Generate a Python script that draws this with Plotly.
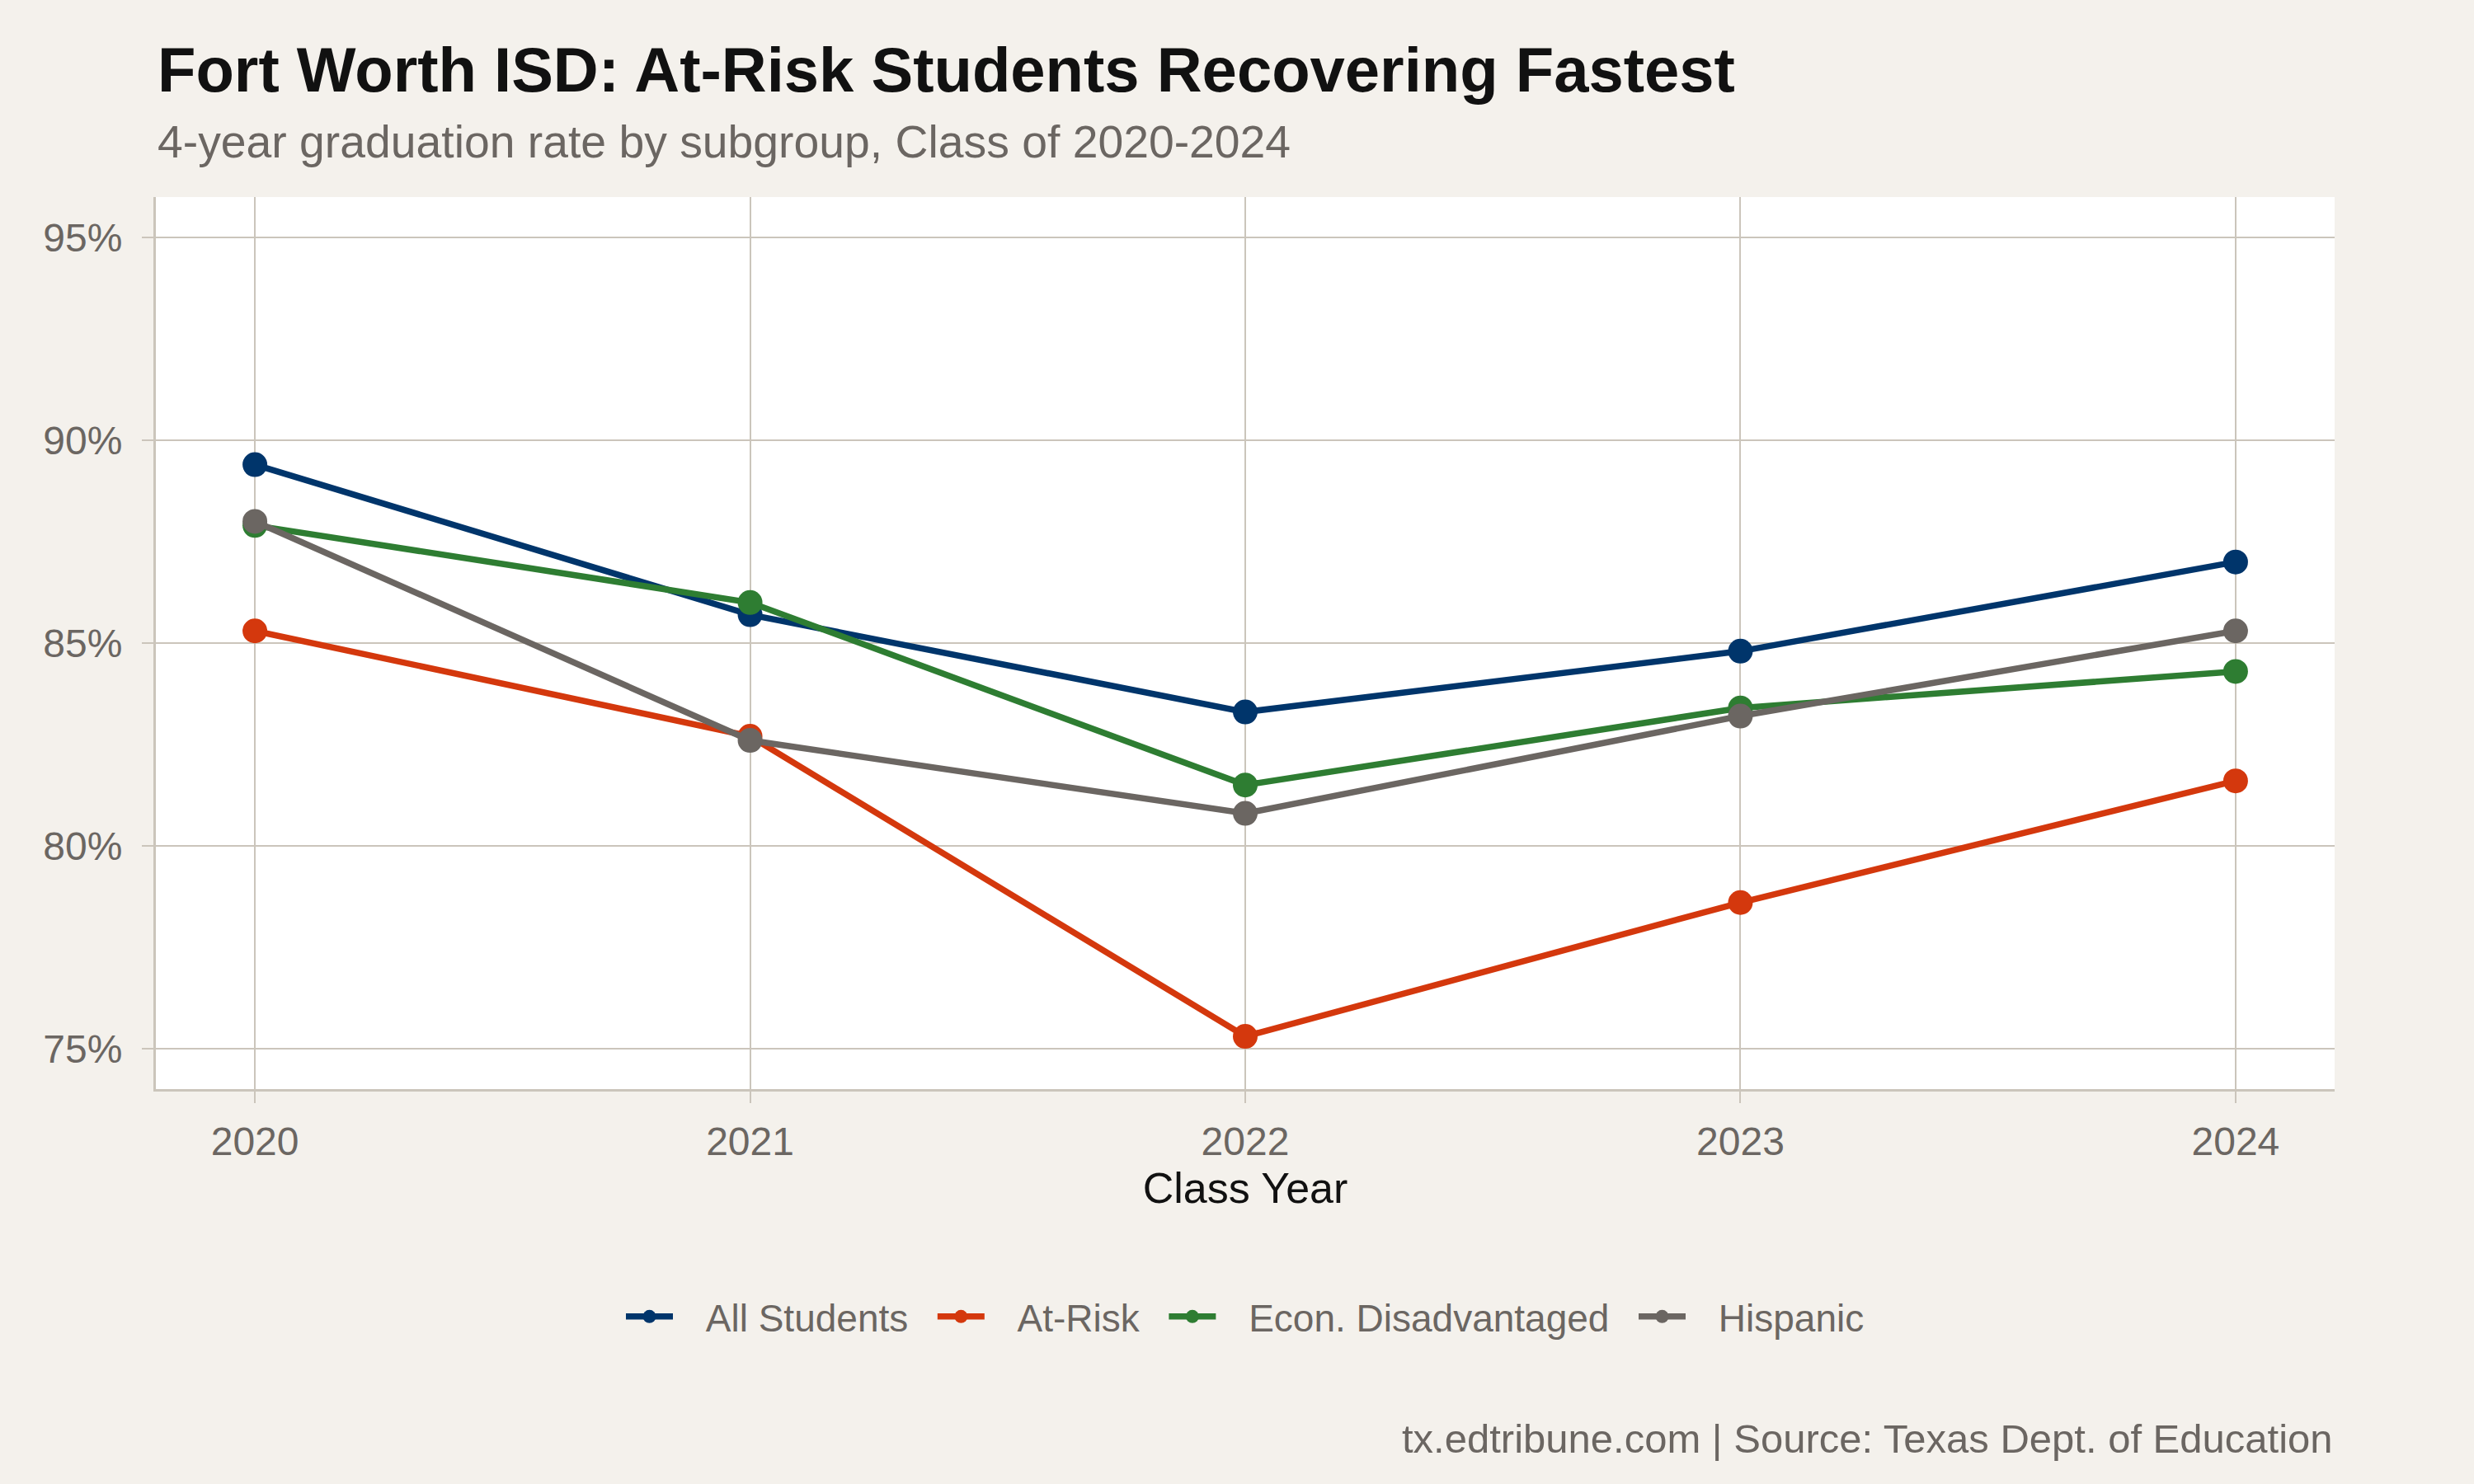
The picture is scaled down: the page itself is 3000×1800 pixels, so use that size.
import plotly.graph_objects as go

years = [2020, 2021, 2022, 2023, 2024]
all_students = [89.4, 85.7, 83.3, 84.8, 87.0]
at_risk = [85.3, 82.7, 75.3, 78.6, 81.6]
econ_disadv = [87.9, 86.0, 81.5, 83.4, 84.3]
hispanic = [88.0, 82.6, 80.8, 83.2, 85.3]

series_names = ["All Students", "At-Risk", "Econ. Disadvantaged", "Hispanic"]
series_values = [all_students, at_risk, econ_disadv, hispanic]
series_colors = ["#00356B", "#D4380D", "#2E7D32", "#6B6662"]

y_ticks = [75, 80, 85, 90, 95]
y_tick_labels = ["75%", "80%", "85%", "90%", "95%"]

title_text = "Fort Worth ISD: At-Risk Students Recovering Fastest"
subtitle_text = "4-year graduation rate by subgroup, Class of 2020-2024"
caption_text = "tx.edtribune.com | Source: Texas Dept. of Education"

FONT = "Liberation Sans, Arial, Helvetica, sans-serif"
BG = "#F4F1EC"
GRID = "#CBC5BB"
TXT = "#6B6662"
PRE = "\u00a0\u00a0\u2009"
POST = "\u00a0\u00a0"

fig = go.Figure()
n = len(series_names)
for i, (name, vals, col) in enumerate(zip(series_names, series_values, series_colors)):
    label = PRE + name + (POST if i < n - 1 else "")
    fig.add_trace(go.Scatter(
        x=years, y=vals, name=label, mode="lines+markers",
        line=dict(color=col, width=7.5),
        marker=dict(color=col, size=30),
        hovertemplate=name + ": %{y:.1f}%<extra></extra>",
    ))

fig.update_layout(
    width=3000, height=1800,
    paper_bgcolor=BG, plot_bgcolor="white",
    margin=dict(l=189, r=169, t=239, b=479),
    font=dict(family=FONT, color=TXT, size=48),
    showlegend=True,
    legend=dict(orientation="h", x=0.5, xanchor="center", y=-0.255, yanchor="middle",
                font=dict(size=46, color=TXT), bgcolor="rgba(0,0,0,0)",
                itemwidth=57, tracegroupgap=0),
    xaxis=dict(
        range=[2019.8, 2024.2], tickvals=years, ticktext=[str(y) for y in years],
        showgrid=True, gridcolor=GRID, gridwidth=2,
        showline=True, linecolor=GRID, linewidth=3,
        ticks="outside", ticklen=14, tickwidth=2, tickcolor=GRID,
        tickfont=dict(size=48, color=TXT), ticklabelstandoff=5,
        title=dict(text="Class Year", font=dict(size=52, color="#111111"), standoff=14),
        zeroline=False,
    ),
    yaxis=dict(
        range=[74, 96], tickvals=y_ticks, ticktext=y_tick_labels,
        showgrid=True, gridcolor=GRID, gridwidth=2,
        showline=True, linecolor=GRID, linewidth=3,
        ticks="outside", ticklen=14, tickwidth=2, tickcolor=GRID,
        tickfont=dict(size=48, color=TXT), ticklabelstandoff=14,
        zeroline=False,
    ),
    annotations=[
        dict(text="<b>" + title_text + "</b>", xref="paper", yref="paper", x=0, y=(1321 - 85) / 1082,
             xanchor="left", yanchor="middle", showarrow=False,
             font=dict(size=76, color="#111111", family=FONT)),
        dict(text=subtitle_text, xref="paper", yref="paper", x=0, y=(1321 - 172) / 1082,
             xanchor="left", yanchor="middle", showarrow=False,
             font=dict(size=55.3, color=TXT, family=FONT)),
        dict(text=caption_text, xref="paper", yref="paper", x=1, y=(1321 - 1745) / 1082,
             xanchor="right", yanchor="middle", showarrow=False,
             font=dict(size=49, color=TXT, family=FONT)),
    ],
)

fig.write_html("out.html")
